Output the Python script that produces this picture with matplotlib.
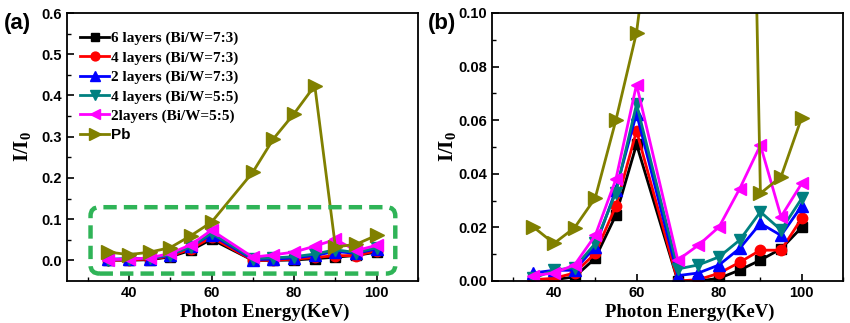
import numpy as np
import matplotlib
matplotlib.use("Agg")
import matplotlib.pyplot as plt
from matplotlib.patches import FancyBboxPatch

# ── data ───────────────────────────────────────────────────────────────────────
energy = [35, 40, 45, 50, 55, 60, 70, 75, 80, 85, 90, 95, 100]

bw73_6 = [0.0005, 0.0005, 0.0015, 0.0085, 0.0246, 0.051, 0.0, 0.0, 0.001, 0.0041, 0.0078, 0.012, 0.020]
bw73_4 = [0.0005, 0.001, 0.003, 0.0103, 0.028, 0.056, 0.0, 0.0005, 0.0029, 0.007, 0.0115, 0.0115, 0.0234]
bw73_2 = [0.003, 0.004, 0.004, 0.0128, 0.034, 0.0625, 0.002, 0.003, 0.006, 0.0122, 0.0215, 0.017, 0.028]
bw55_4 = [0.001, 0.004, 0.005, 0.014, 0.033, 0.066, 0.0045, 0.006, 0.009, 0.0153, 0.0258, 0.019, 0.0308]
bw55_2 = [0.002, 0.003, 0.006, 0.017, 0.038, 0.0733, 0.0078, 0.0134, 0.0202, 0.0345, 0.0507, 0.024, 0.0364]
pb     = [0.0202, 0.014, 0.0199, 0.031, 0.060, 0.0927, 0.214, 0.295, 0.356, 0.424, 0.0327, 0.0389, 0.061]

series = [
    ("6 layers (Bi/W=7:3)", bw73_6, "black",   "s", 6.5),
    ("4 layers (Bi/W=7:3)", bw73_4, "#ff0000", "o", 7.5),
    ("2 layers (Bi/W=7:3)", bw73_2, "#0000ff", "^", 9),
    ("4 layers (Bi/W=5:5)", bw55_4, "#008080", "v", 9),
    ("2layers (Bi/W=5:5)",  bw55_2, "#ff00ff", "<", 9),
    ("Pb",                  pb,     "#808000", ">", 10),
]

SERIF = "Liberation Serif"
SANS = "Liberation Sans"
plt.rcParams["mathtext.fontset"] = "custom"
plt.rcParams["mathtext.rm"] = "Liberation Serif"
plt.rcParams["mathtext.bf"] = "Liberation Serif:bold"

fig = plt.figure(figsize=(8.5, 3.23), dpi=100)
ax_a = fig.add_axes([67 / 850, 1 - 281 / 323, 351 / 850, 268 / 323])
ax_b = fig.add_axes([492 / 850, 1 - 281 / 323, 351 / 850, 268 / 323])


def style(ax):
    ax.set_xlim(25, 110)
    ax.set_xticks([40, 60, 80, 100])
    ax.set_xticks([30, 50, 70, 90, 110], minor=True)
    ax.tick_params(which="both", direction="in", top=False, right=False)
    ax.tick_params(which="major", length=5, width=1.2)
    ax.tick_params(which="minor", length=3, width=1.0)
    for s in ax.spines.values():
        s.set_linewidth(1.3)
    for lab in ax.get_xticklabels() + ax.get_yticklabels():
        lab.set_fontfamily(SANS)
        lab.set_fontweight("bold")
        lab.set_fontsize(10.5)
    ax.set_xlabel("Photon Energy(KeV)", fontfamily=SERIF, fontweight="bold",
                  fontsize=13.5)
    ax.xaxis.set_label_coords(0.564, -0.085)
    ax.set_ylabel(r"$\mathbf{I/I_0}$", fontsize=15)
    ax.yaxis.set_label_coords(-0.097, 0.5)


for ax in (ax_a, ax_b):
    for label, vals, col, mk, ms in series:
        ax.plot(energy, vals, color=col, marker=mk, markersize=ms, lw=2.0,
                label=label)

# panel (a)
ax_a.set_ylim(-0.05, 0.6)
ax_a.set_yticks(np.arange(0, 0.61, 0.1))
ax_a.set_yticks(np.arange(0.05, 0.6, 0.1), minor=True)
ax_a.yaxis.set_major_formatter(matplotlib.ticker.FormatStrFormatter("%.1f"))
style(ax_a)

leg = ax_a.legend(loc="upper left", bbox_to_anchor=(0.012, 0.965), frameon=False,
                  handlelength=1.9, handletextpad=0.1, labelspacing=0.36,
                  borderaxespad=0.2, markerscale=0.85,
                  prop={"family": SERIF, "weight": "bold", "size": 11})
leg.get_texts()[-1].set_fontfamily(SANS)

box = FancyBboxPatch((30.7, -0.032), 104.5 - 30.7, 0.129 + 0.032,
                     boxstyle="round,pad=0,rounding_size=2.2",
                     mutation_aspect=0.0095, fill=False, edgecolor="#2fb457",
                     lw=3.2, linestyle=(0, (3, 1.6)), zorder=5)
ax_a.add_patch(box)

# panel (b)
ax_b.set_ylim(0, 0.1)
ax_b.set_yticks(np.arange(0, 0.101, 0.02))
ax_b.set_yticks(np.arange(0.01, 0.1, 0.02), minor=True)
ax_b.yaxis.set_major_formatter(matplotlib.ticker.FormatStrFormatter("%.2f"))
style(ax_b)

fig.text(4 / 850, 1 - 23 / 323, "(a)", fontfamily=SANS, fontweight="bold",
         fontsize=16, va="center", ha="left")
fig.text(428 / 850, 1 - 23 / 323, "(b)", fontfamily=SANS, fontweight="bold",
         fontsize=16, va="center", ha="left")

fig.savefig("out.png", dpi=100)
